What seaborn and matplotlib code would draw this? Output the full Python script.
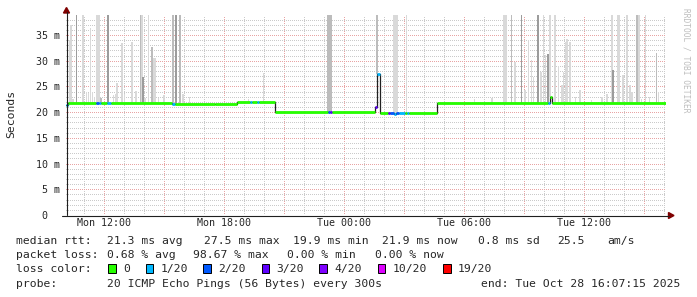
import numpy as np
import matplotlib
matplotlib.use("Agg")
import matplotlib.pyplot as plt
import seaborn as sns
from matplotlib.ticker import MultipleLocator, FuncFormatter
from matplotlib.patches import Polygon, Rectangle
from matplotlib.lines import Line2D

# ---------------- data (hours since Mon 00:00, values in ms) ----------------
T_START = 10 + 7 / 60 + 15 / 3600
T_END = T_START + 30

med_t = [10.12, 10.22, 11.62, 11.75, 11.85, 12.17, 12.37, 15.43, 15.55, 17.59,
         18.67, 19.30, 19.40, 19.65, 19.75, 20.59, 23.20, 23.30, 23.40, 25.58,
         25.66, 25.80, 26.20, 26.30, 26.50, 26.60, 26.75, 27.05, 27.15, 27.25,
         28.67, 34.20, 34.33, 34.41]
med_v = [21.4, 21.7, 21.7, 21.7, 21.7, 21.7, 21.7, 21.6, 21.5, 21.6,
         21.9, 21.9, 21.9, 21.9, 21.9, 19.95, 19.95, 19.95, 19.95, 21.0,
         27.5, 19.9, 19.8, 19.8, 19.7, 19.8, 19.8, 19.9, 19.9, 19.9,
         21.85, 21.7, 23.0, 21.85]
med_loss = [1, 0, 2, 1, 0, 1, 0, 1, 0, 0,
            0, 1, 0, 1, 0, 0, 2, 3, 0, 3,
            1, 0, 3, 2, 1, 2, 1, 0, 1, 0,
            0, 1, 0, 0]

loss_labels = ["0", "1/20", "2/20", "3/20", "4/20", "10/20", "19/20"]
loss_colors = ["#26ff00", "#00b8ff", "#0059ff", "#5e00ff", "#7e00ff", "#dd00ff", "#ff0000"]

smoke_t = [10.29, 10.38, 10.47, 10.65, 10.97, 11.14, 11.24, 11.34, 11.44, 11.55,
           11.68, 11.76, 11.86, 12.23, 12.50, 12.59, 12.67, 12.92, 13.05, 13.42,
           13.62, 13.85, 13.92, 13.98, 14.08, 14.24, 14.42, 14.50, 14.58, 14.74,
           15.03, 15.47, 15.63, 15.81, 15.98, 16.30, 19.24, 19.99, 23.20, 23.28,
           23.36, 25.66, 26.50, 26.58, 26.66, 27.14, 30.55, 31.42, 32.03, 32.11,
           32.40, 32.56, 32.90, 33.07, 33.24, 33.39, 33.50, 33.72, 33.88, 34.00,
           34.10, 34.22, 34.33, 34.58, 34.75, 34.92, 35.00, 35.10, 35.18, 35.33,
           35.59, 35.82, 36.40, 36.92, 37.17, 37.41, 37.48, 37.70, 37.78, 37.98,
           38.17, 38.31, 38.42, 38.68, 38.76, 38.90, 39.10, 39.30, 39.65, 39.75]
smoke_top = [34.0, 37.0, 22.5, 39.5, 39.5, 24.0, 23.8, 36.3, 24.0, 22.9,
             39.5, 39.5, 22.7, 39.5, 23.3, 23.5, 25.7, 33.4, 23.6, 33.7,
             24.1, 39.5, 39.5, 26.9, 22.8, 39.5, 32.7, 30.5, 30.5, 22.8,
             23.3, 39.5, 39.5, 39.5, 23.6, 22.9, 22.5, 27.6, 39.5, 39.5,
             39.5, 39.5, 39.5, 39.5, 39.5, 39.5, 22.6, 22.8, 39.5, 39.5,
             39.5, 29.8, 39.5, 24.3, 34.0, 30.1, 26.9, 39.5, 27.9, 39.5,
             31.1, 31.4, 39.5, 39.5, 28.9, 25.3, 27.9, 33.7, 34.3, 33.6,
             23.0, 24.3, 22.4, 23.0, 23.6, 39.5, 28.2, 39.5, 39.5, 27.2,
             39.5, 25.3, 24.0, 39.5, 39.5, 22.5, 39.5, 23.0, 31.5, 24.0]
smoke_shade = list("llldllllll"
                   "llmdllllll"
                   "lmldllmlll"
                   "lmdmllllmm"
                   "mmllllllll"
                   "mldlllldll"
                   "ldllllllll"
                   "lllllldlll"
                   "lllmllllml")

xtick_hours = [12, 18, 24, 30, 36]
xtick_labels = ["Mon 12:00", "Mon 18:00", "Tue 00:00", "Tue 06:00", "Tue 12:00"]
ytick_vals = [0, 5, 10, 15, 20, 25, 30, 35]
ytick_labels = [" 0  ", " 5 m", "10 m", "15 m", "20 m", "25 m", "30 m", "35 m"]

legend_rows = [
    [(16, "median rtt:"), (107.3, "21.3 ms avg"), (204, "27.5 ms max"), (293.3, "19.9 ms min"),
     (382, "21.9 ms now"), (478, "0.8 ms sd"), (557, "25.5"), (607, "am/s")],
    [(16, "packet loss:"), (107.3, "0.68 % avg"), (193.3, "98.67 % max"), (286.7, "0.00 % min"),
     (375, "0.00 % now")],
]
box_x = [108.3, 145.7, 203.3, 261.7, 319.3, 377.7, 443.0]
probe_text = "20 ICMP Echo Pings (56 Bytes) every 300s"
end_text = "end: Tue Oct 28 16:07:15 2025"

# ---------------- figure ----------------
W, H = 697, 297
sns.set_theme(style="white")
plt.rcParams["font.family"] = ["DejaVu Sans Mono", "DejaVu Sans"]
fig = plt.figure(figsize=(W / 100, H / 100), dpi=100)
fig.patch.set_facecolor("white")


def fx(x):
    return x / W


def fy(y):
    return 1 - y / H


ax = fig.add_axes([fx(66), fy(215), 600 / W, 200 / H])
ax.set_facecolor("white")
ax.set_xlim(T_START, T_END)
ax.set_ylim(0, 38.9)

# grid (dotted, rrdtool style)
ax.xaxis.set_major_locator(MultipleLocator(3))
ax.xaxis.set_minor_locator(MultipleLocator(1))
ax.yaxis.set_major_locator(MultipleLocator(5))
ax.yaxis.set_minor_locator(MultipleLocator(1))
ax.grid(which="minor", color="#cacaca", lw=0.72, ls=(0, (1, 2)), antialiased=False)
ax.grid(which="major", color="#e8a4a4", lw=0.72, ls=(0, (1, 2)), antialiased=False)
ax.set_axisbelow(True)

lab = dict(zip(xtick_hours, xtick_labels))
ax.xaxis.set_major_formatter(FuncFormatter(lambda v, p: lab.get(int(round(v)), "")))
ax.set_yticks(ytick_vals)
ax.set_yticklabels(ytick_labels)
ax.yaxis.set_minor_locator(MultipleLocator(1))
ax.tick_params(axis="both", which="both", length=0)
ax.tick_params(axis="x", pad=2.2, labelsize=7.2)
ax.tick_params(axis="y", pad=21.6, labelsize=7.2)
for t in ax.get_yticklabels():
    t.set_horizontalalignment("left")
for s in ax.spines.values():
    s.set_visible(False)

# smoke
med_t_arr = np.array(med_t)
med_v_arr = np.array(med_v)
idx = np.searchsorted(med_t_arr, np.array(smoke_t), side="right") - 1
smoke_bot = med_v_arr[np.clip(idx, 0, None)]
shade_map = {"l": "#d9d9d9", "m": "#bcbcbc", "d": "#9c9c9c"}
ax.bar(smoke_t, np.array(smoke_top) - smoke_bot, bottom=smoke_bot, width=1 / 12,
       color=[shade_map[s] for s in smoke_shade], linewidth=0, zorder=2)

# median black step line
sns.lineplot(x=med_t + [T_END], y=med_v + [med_v[-1]], drawstyle="steps-post",
             color="#202020", lw=0.9, ax=ax, zorder=3)
# loss coloured median
t_next = med_t[1:] + [T_END]
ax.hlines(med_v, med_t, t_next, colors=[loss_colors[l] for l in med_loss],
          lw=2.0, zorder=4, capstyle="butt")

# axes lines and arrows
fig.add_artist(Line2D([fx(66.5), fx(66.5)], [fy(215), fy(12)], color="#1f1f1f", lw=0.8))
fig.add_artist(Line2D([fx(62), fx(669)], [fy(215.5), fy(215.5)], color="#1f1f1f", lw=0.8))
fig.add_artist(Polygon([[fx(63.5), fy(13)], [fx(69.5), fy(13)], [fx(66.5), fy(7.5)]],
                       closed=True, color="#7f0000", transform=fig.transFigure))
fig.add_artist(Polygon([[fx(668.5), fy(212.5)], [fx(668.5), fy(218.5)], [fx(674), fy(215.5)]],
                       closed=True, color="#7f0000", transform=fig.transFigure))

# y label and watermark
fig.text(fx(11), fy(113.5), "Seconds", rotation=90, fontsize=8.2, ha="center", va="center")
fig.text(fx(686), fy(60), "RRDTOOL / TOBI OETIKER", rotation=270, fontsize=5.7,
         color="#bdbdbd", ha="center", va="center")

# legend
row_y = [241.3, 255.3, 268.7, 283.7]
for r, items in enumerate(legend_rows):
    for x, s in items:
        fig.text(fx(x), fy(row_y[r]), s, fontsize=8.2, ha="left", va="center")
fig.text(fx(16), fy(row_y[2]), "loss color:", fontsize=8.2, ha="left", va="center")
for bx, c, l in zip(box_x, loss_colors, loss_labels):
    fig.add_artist(Rectangle((fx(bx), fy(273)), 7.7 / W, 8.7 / H, facecolor=c,
                             edgecolor="black", lw=0.7, transform=fig.transFigure))
    fig.text(fx(bx + 15), fy(row_y[2]), l, fontsize=8.2, ha="left", va="center")
fig.text(fx(16), fy(row_y[3]), "probe:", fontsize=8.2, ha="left", va="center")
fig.text(fx(107.3), fy(row_y[3]), probe_text, fontsize=8.2, ha="left", va="center")
fig.text(fx(680), fy(row_y[3]), end_text, fontsize=8.2, ha="right", va="center")

fig.savefig("out.png", dpi=100, facecolor="white")
